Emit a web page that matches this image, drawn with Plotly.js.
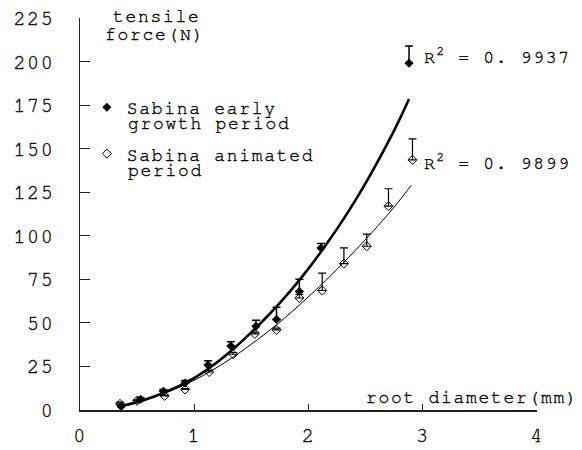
<!DOCTYPE html>
<html>
<head>
<meta charset="utf-8">
<script src="https://cdn.plot.ly/plotly-3.0.1.min.js"></script>
<style>
html, body { margin: 0; padding: 0; background: #fff; }
#chart { width: 582px; height: 450px; }
text { letter-spacing: 1.7px; stroke: #000; stroke-width: 0.35px; }
</style>
</head>
<body>
<div id="chart"></div>
<script>
// Measured points: early growth period (filled diamonds)
var earlyX = [0.36, 0.53, 0.73, 0.92, 1.12, 1.32, 1.54, 1.72, 1.92, 2.11, 2.88];
var earlyY = [2.0, 6.2, 10.8, 15.5, 25.8, 36.7, 48.0, 52.0, 68.0, 93.0, 199.0];
var earlyErr = [1.0, 1.0, 1.0, 1.5, 2.5, 2.5, 3.5, 7.0, 7.0, 2.5, 10.0];

// Measured points: animated period (open diamonds)
var animX = [0.35, 0.50, 0.74, 0.92, 1.13, 1.34, 1.53, 1.72, 1.92, 2.12, 2.31, 2.51, 2.70, 2.91];
var animY = [3.5, 5.3, 8.1, 11.8, 21.8, 32.0, 43.7, 46.0, 64.3, 68.6, 84.0, 94.0, 117.0, 143.6];
var animErr = [1.0, 0.5, 0.5, 0.5, 1.0, 1.0, 1.0, 1.0, 2.0, 10.0, 9.0, 7.0, 10.0, 12.0];

// Fitted trend curves
var earlyFitX = [0.37, 0.55, 0.75, 0.95, 1.15, 1.35, 1.55, 1.75, 1.95, 2.15, 2.35, 2.55, 2.75, 2.88];
var earlyFitY = [2.4, 5.5, 10.3, 16.5, 25.0, 35.5, 47.8, 61.5, 77.0, 94.5, 114.0, 136.0, 160.5, 178.5];
var animFitX = [0.35, 0.55, 0.75, 0.95, 1.15, 1.35, 1.55, 1.75, 1.95, 2.15, 2.35, 2.55, 2.75, 2.90];
var animFitY = [2.4, 5.6, 10.0, 15.5, 22.5, 30.8, 40.2, 50.5, 62.0, 74.3, 87.5, 101.5, 116.5, 129.0];

var r2Labels = ["R<sup>2</sup> = 0. 9937", "R<sup>2</sup> = 0. 9899"];
var seriesFirstLines = ["Sabina early", "Sabina animated"];
var seriesSecondLines = ["growth period", "period"];
var yTitleLines = ["tensile", "force(N)"];
var xTitle = "root diameter(mm)";
var xTicks = [0, 1, 2, 3, 4];
var yTicks = [0, 25, 50, 75, 100, 125, 150, 175, 200, 225];

var FONT = "'Nimbus Mono PS', 'Nimbus Mono L', FreeMono, 'Liberation Mono', monospace";
var TXT = "#000";

var traces = [
  {
    x: earlyFitX, y: earlyFitY, mode: "lines", showlegend: false, hoverinfo: "skip",
    line: {color: "#000", width: 2.6, shape: "spline"}
  },
  {
    x: animFitX, y: animFitY, mode: "lines", showlegend: false, hoverinfo: "skip",
    line: {color: "#000", width: 1, shape: "spline"}
  },
  {
    x: earlyX, y: earlyY, mode: "markers", name: seriesFirstLines[0], legendgroup: "a",
    marker: {symbol: "diamond", size: 7, color: "#000"},
    error_y: {type: "data", symmetric: false, array: earlyErr, arrayminus: earlyX.map(function(){return 0;}),
              color: "#000", thickness: 1.5, width: 4}
  },
  {
    x: animX, y: animY, mode: "markers", name: seriesFirstLines[1], legendgroup: "b",
    marker: {symbol: "diamond-open", size: 7, color: "#000", line: {width: 1}},
    error_y: {type: "data", symmetric: false, array: animErr, arrayminus: animX.map(function(){return 0;}),
              color: "#000", thickness: 1.2, width: 4}
  }
];

function pxX(p) { return (p - 80) / 457; }
function pxY(p) { return (410 - p) / 392; }

function note(text, x, y, anchor, size) {
  return {xref: "paper", yref: "paper", x: x, y: y, xanchor: anchor, yanchor: "middle",
          text: text, showarrow: false, font: {family: FONT, size: size || 18, color: TXT}};
}

var layout = {
  width: 582, height: 450,
  margin: {l: 80, r: 45, t: 18, b: 40},
  paper_bgcolor: "#fff", plot_bgcolor: "#fff",
  font: {family: FONT, color: TXT, size: 18},
  showlegend: true,
  legend: {
    x: 0.015, y: pxY(89), xanchor: "left", yanchor: "top",
    bgcolor: "rgba(0,0,0,0)", valign: "middle",
    traceorder: "grouped", tracegroupgap: 20,
    font: {family: FONT, size: 18, color: TXT}
  },
  xaxis: {
    range: [0, 4], tickvals: xTicks, ticktext: xTicks.map(String),
    showgrid: false, zeroline: false, showline: true, linecolor: "#222", linewidth: 1.5,
    ticks: "inside", ticklen: 6, tickwidth: 1.2, tickcolor: "#222",
    ticklabelstandoff: 6,
    tickfont: {family: FONT, size: 20, color: TXT}
  },
  yaxis: {
    range: [0, 225], tickvals: yTicks, ticktext: yTicks.map(String),
    showgrid: false, zeroline: false, showline: true, linecolor: "#222", linewidth: 1.5,
    ticks: "inside", ticklen: 10, tickwidth: 1.2, tickcolor: "#222",
    ticklabelstandoff: 20,
    tickfont: {family: FONT, size: 20, color: TXT}
  },
  annotations: [
    note(yTitleLines[0], pxX(157), pxY(17), "center"),
    note(yTitleLines[1], pxX(155), pxY(35), "center"),
    note(xTitle, pxX(581), pxY(398), "right"),
    note(seriesSecondLines[0], pxX(126), pxY(124), "left"),
    note(seriesSecondLines[1], pxX(126), pxY(171), "left"),
    {xref: "x", yref: "y", x: 2.99, y: 203, xanchor: "left", yanchor: "middle",
     text: r2Labels[0], showarrow: false, font: {family: FONT, size: 18, color: TXT}},
    {xref: "x", yref: "y", x: 2.99, y: 142.5, xanchor: "left", yanchor: "middle",
     text: r2Labels[1], showarrow: false, font: {family: FONT, size: 18, color: TXT}}
  ]
};

Plotly.newPlot("chart", traces, layout, {displayModeBar: false, staticPlot: true});
</script>
</body>
</html>
